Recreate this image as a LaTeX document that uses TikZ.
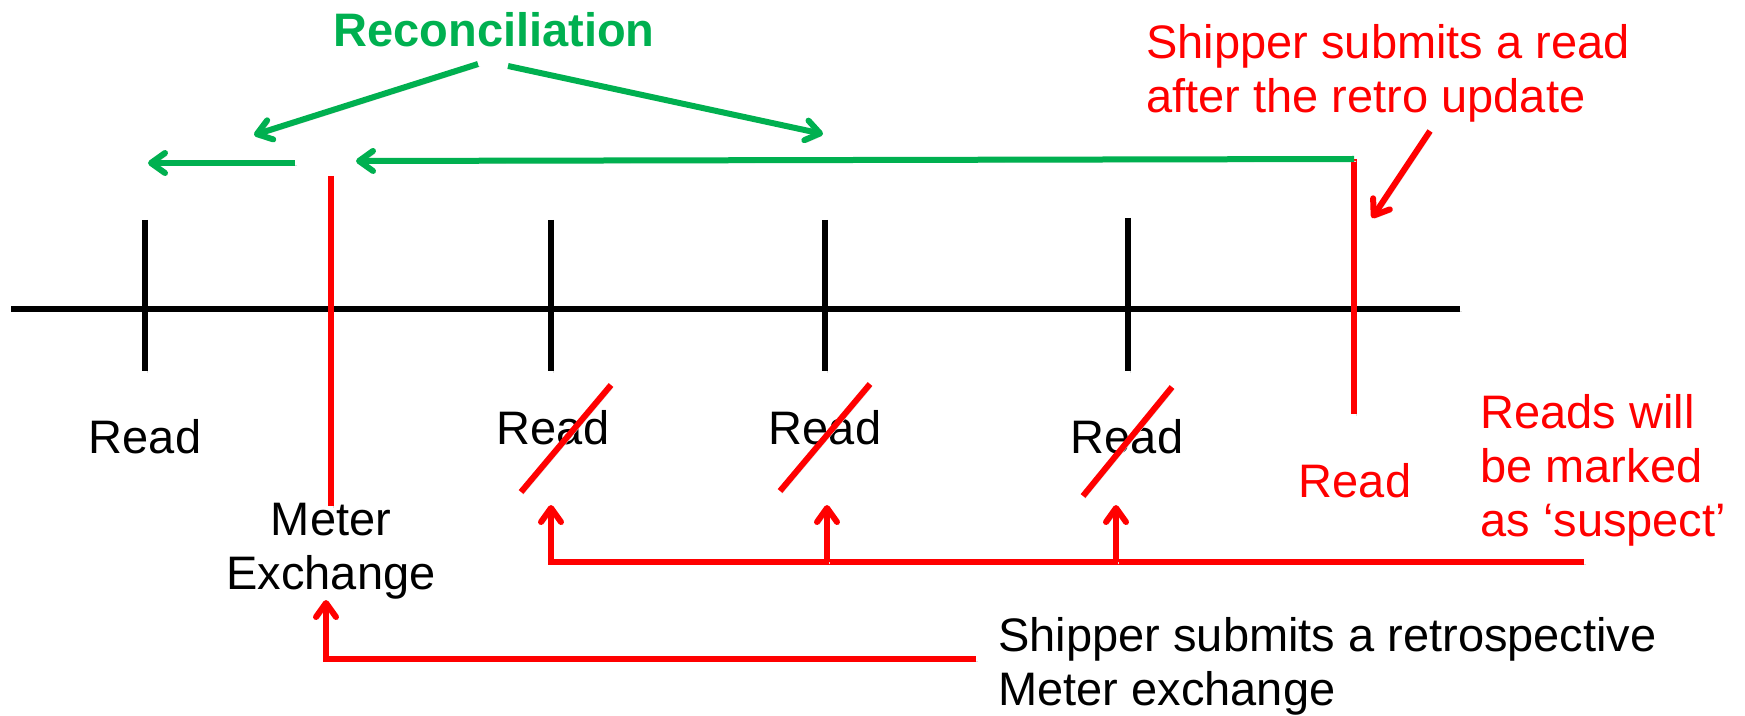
\documentclass[tikz,border=0pt]{standalone}
\usepackage{fontspec}
\setmainfont{Liberation Sans}
\usetikzlibrary{                          % TikZ libraries
                arrows.meta,              % .
                calc}
\definecolor{recogreen}{RGB}{0,176,80}

\begin{document}
\begin{tikzpicture}[x=0.5pt,y=-0.5pt]
                % define styles
\tikzset{every node/.style={inner sep=0,
                            font=\fontsize{23.5}{27}\selectfont},
         shadowed/.style={preaction={draw=black!13,
                                     transform canvas={xshift=1pt,yshift=-1.2pt}}},
         axis/.style={draw=black,
                      line width=3pt,
                      shadowed},
         retro/.style={draw=red,
                       line width=3pt,
                       shadowed},
         recon/.style={draw=recogreen,
                       line width=3pt,
                       shadowed},
         barbtip/.style={-{Straight Barb[length=7pt,width=10pt,round]}}
}

\useasboundingbox (0,0) rectangle (1745,716);

% timeline
\coordinate (axisL) at (11,309);
\coordinate (axisR) at (1460,309);
\draw[axis] (axisL) -- (axisR);
\foreach \name/\xpos/\ytop in {t1/145/220, t2/551/220, t3/825/220, t4/1128/218}
    \draw[axis] (\xpos,\ytop) coordinate (\name top) -- (\xpos,371) coordinate (\name bot);

% meter exchange and new read markers
\coordinate (mexTop) at (331,176);
\coordinate (mexBot) at (331,506);
\coordinate (nrTop)  at (1354,159);
\coordinate (nrBot)  at (1354,414);
\draw[retro] (mexTop) -- (mexBot);
\draw[retro] (nrTop) -- (nrBot);

% labels
\node[font=\fontsize{23.5}{27}\selectfont\bfseries, text=recogreen] (reco) at (494,30) {Reconciliation};
\node[text=red, align=left, anchor=north west] (retroread) at (1146,24)
    {Shipper submits a read\\after the retro update};
\node (read1) at (145,437) {Read};
\node (read2) at (553,428) {Read};
\node (read3) at (825,428) {Read};
\node (read4) at (1127,437) {Read};
\node[text=red] (newread) at (1355,481) {Read};
\node[text=red, align=left, anchor=north west] (suspect) at (1480,394)
    {Reads will\\be marked\\as ‘suspect’};
\node[align=center, anchor=north] (meterex) at (331,503) {Meter\\Exchange};
\node[align=left, anchor=north west] (retromex) at (998,617)
    {Shipper submits a retrospective\\Meter exchange};

% reconciliation arrows
\coordinate (recoL)   at (478,64);
\coordinate (recoR)   at (508,66);
\coordinate (recoLt)  at (254,135);
\coordinate (recoRt)  at (823,134);
\coordinate (shortS)  at (295,163);
\coordinate (shortE)  at (148,163);
\coordinate (longE)   at (356,161);
\draw[recon,barbtip] (recoL) -- (recoLt);
\draw[recon,barbtip] (recoR) -- (recoRt);
\draw[recon,barbtip] (shortS) -- (shortE);
\draw[recon,barbtip] (nrTop) -- (longE);

% new read arrow
\coordinate (nrS) at (1430,131);
\coordinate (nrE) at (1372,218);
\draw[retro,barbtip] (nrS) -- (nrE);

% struck out reads
\foreach \s/\e in {{(521,492)}/{(611,385)}, {(780,491)}/{(870,384)}, {(1083,496)}/{(1172,387)}}
    \draw[retro] \s -- \e;

% suspect arrows
\coordinate (susS) at (1584,562);
\draw[retro,barbtip] (susS) -| (551,505);
\foreach \xpos in {827,1116}
    \draw[retro,barbtip] (\xpos,562) -- (\xpos,505);

% retrospective meter exchange arrow
\coordinate (mexS) at (976,659);
\draw[retro,barbtip] (mexS) -| (326,600);

\end{tikzpicture}
\end{document}
